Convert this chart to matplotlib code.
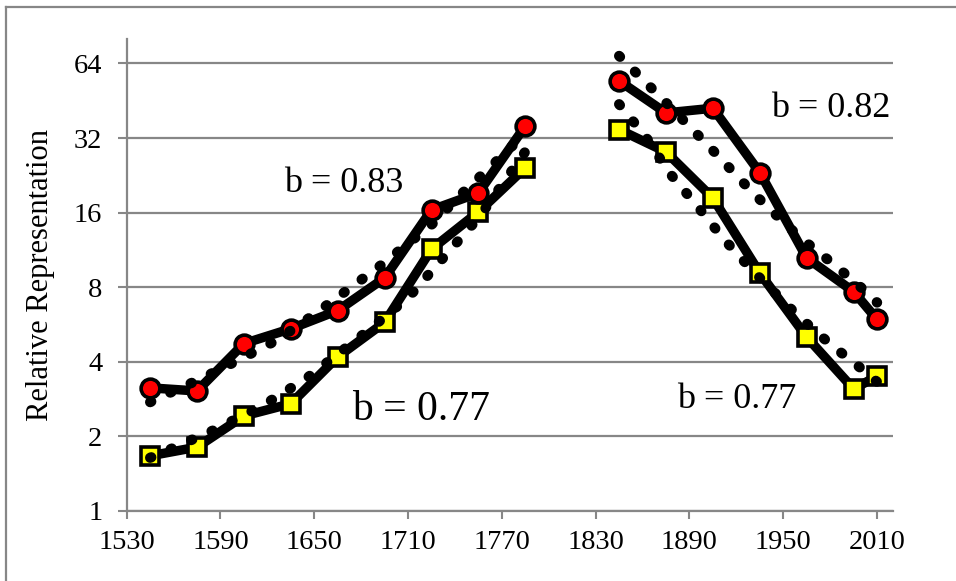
import matplotlib
matplotlib.use("Agg")
import matplotlib.pyplot as plt
from matplotlib.lines import Line2D
import numpy as np

plt.rcParams['font.family'] = ['Liberation Serif', 'DejaVu Serif']

# ---- data ----
years_early = [1545, 1575, 1605, 1635, 1665, 1695, 1725, 1755, 1785]
years_late = [1845, 1875, 1905, 1935, 1965, 1995, 2010]

red_early = [3.14, 3.05, 4.74, 5.44, 6.44, 8.72, 16.4, 19.2, 35.8]
red_late = [54.4, 40.4, 42.2, 23.2, 10.5, 7.68, 5.93]

yellow_early = [1.67, 1.81, 2.42, 2.71, 4.19, 5.77, 11.4, 16.1, 24.3]
yellow_late = [34.6, 28.1, 18.3, 9.12, 5.03, 3.11, 3.50]

# dotted trend curves
red_trend_early_years = [1545, 1553, 1578, 1602, 1626, 1649, 1671, 1693, 1725, 1744, 1764, 1785]
red_trend_early = [2.75, 2.91, 3.43, 4.08, 4.89, 6.15, 7.78, 9.85, 14.3, 19.0, 24.9, 33.4]
yellow_trend_early_years = [1545, 1552, 1585, 1616, 1645, 1685, 1711, 1733, 1756, 1785]
yellow_trend_early = [1.64, 1.71, 2.11, 2.64, 3.43, 5.38, 7.37, 10.6, 15.5, 28.2]

red_trend_late_years = [1845, 1874, 1903, 1931, 1960, 1982, 2003, 2010]
red_trend_late = [68.6, 45.1, 29.4, 19.1, 12.8, 9.93, 7.67, 6.94]
yellow_trend_late_years = [1845, 1862, 1877, 1895, 1912, 1931, 1960, 1980, 2001, 2010]
yellow_trend_late = [43.8, 32.4, 23.2, 17.0, 12.5, 9.24, 6.08, 4.72, 3.71, 3.32]

x_ticks = [1530, 1590, 1650, 1710, 1770, 1830, 1890, 1950, 2010]
y_ticks = [1, 2, 4, 8, 16, 32, 64]

annotations = [("b = 0.83", 1668.6, 19.4, 26),
               ("b = 0.77", 1718.3, 2.33, 30),
               ("b = 0.82", 1980.3, 39.0, 26),
               ("b = 0.77", 1920.1, 2.61, 26)]

# ---- figure ----
fig = plt.figure(figsize=(9.56, 5.81), dpi=100)
ax = fig.add_axes([126.7 / 956, 1 - 511 / 581, (892.7 - 126.7) / 956, (511 - 38.9) / 581])

grey = '#878787'
line_kw = dict(color='black', lw=6.8, solid_joinstyle='round', zorder=3)
circ_kw = dict(marker='o', markersize=13.5, markerfacecolor='#ff0000',
               markeredgecolor='black', markeredgewidth=2.6)
sq_kw = dict(marker='s', markersize=13, markerfacecolor='#ffff00',
             markeredgecolor='black', markeredgewidth=2.6)

for yrs, vals in [(years_early, yellow_early), (years_late, yellow_late)]:
    ax.plot(yrs, vals, **line_kw, **sq_kw)
for yrs, vals in [(years_early, red_early), (years_late, red_late)]:
    ax.plot(yrs, vals, **line_kw, **circ_kw)

dot_kw = dict(color='black', lw=7.4, linestyle=(0, (0.12, 2.05)),
              dash_capstyle='round', zorder=5)
for yrs, vals in [(red_trend_early_years, red_trend_early),
                  (yellow_trend_early_years, yellow_trend_early),
                  (red_trend_late_years, red_trend_late),
                  (yellow_trend_late_years, yellow_trend_late)]:
    ax.plot(yrs, vals, **dot_kw)

ax.set_yscale('log', base=2)
ax.set_ylim(1, 2 ** ((511 - 38.9) / 74.6))
ax.set_xlim(1530, 2020)
ax.set_yticks(y_ticks)
ax.set_yticklabels([str(v) for v in y_ticks])
ax.yaxis.set_minor_locator(matplotlib.ticker.NullLocator())
ax.set_xticks(x_ticks)
ax.set_xticklabels([str(v) for v in x_ticks])

ax.grid(axis='y', color=grey, lw=1.6, zorder=0)
ax.set_axisbelow(True)
for s in ['top', 'right']:
    ax.spines[s].set_visible(False)
for s in ['left', 'bottom']:
    ax.spines[s].set_color(grey)
    ax.spines[s].set_linewidth(1.6)
ax.tick_params(axis='x', direction='out', length=6, width=1.5, color=grey,
               labelsize=20.5, pad=8)
ax.tick_params(axis='y', direction='out', length=6.5, width=1.5, color=grey,
               labelsize=20.5, pad=11)

ax.set_ylabel('Relative Representation', fontsize=22)
ax.yaxis.set_label_coords(-0.0936, 0.5)

for txt, x, y, fs in annotations:
    ax.text(x, y, txt, fontsize=fs, ha='center', va='baseline', zorder=6)

# outer frame (top and left edges visible)
fig.add_artist(Line2D([5.7 / 956, 5.7 / 956], [0, 1 - 7.3 / 581],
                      transform=fig.transFigure, color=grey, lw=1.6))
fig.add_artist(Line2D([5.7 / 956, 1], [1 - 7.3 / 581, 1 - 7.3 / 581],
                      transform=fig.transFigure, color=grey, lw=1.6))

fig.savefig('out.png', dpi=100)
